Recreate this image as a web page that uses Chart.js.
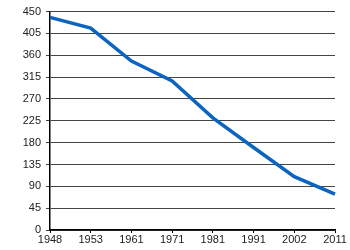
<!DOCTYPE html>
<html>
<head>
<meta charset="utf-8">
<script src="https://cdn.jsdelivr.net/npm/chart.js@4"></script>
<style>
  html, body { margin: 0; padding: 0; background: #fff; }
  #wrap { width: 350px; height: 250px; }
</style>
</head>
<body>
<div id="wrap"><canvas id="lineChart"></canvas></div>
<script>
const years = ['1948', '1953', '1961', '1971', '1981', '1991', '2002', '2011'];
const values = [438, 416, 348, 307, 231, 170, 110, 74];
const yTicks = [0, 45, 90, 135, 180, 225, 270, 315, 360, 405, 450];

Chart.defaults.font.family = '"Liberation Sans", Arial, sans-serif';
Chart.defaults.font.size = 11;
Chart.defaults.color = '#222';

const lineConfig = {
  type: 'line',
  data: {
    labels: years,
    datasets: [{
      data: values,
      borderColor: '#0a64c0',
      borderWidth: 3.5,
      pointRadius: 0,
      tension: 0,
      fill: false
    }]
  },
  options: {
    responsive: true,
    maintainAspectRatio: false,
    animation: false,
    layout: { padding: { left: 0, top: 10, right: 15, bottom: 0 } },
    plugins: {
      legend: { display: false },
      tooltip: { enabled: false }
    },
    scales: {
      x: {
        offset: false,
        grid: { drawOnChartArea: false, tickLength: 3, color: '#000' },
        border: { color: '#000', width: 1.5 },
        ticks: { padding: 0, maxRotation: 0, autoSkip: false },
        afterFit: (scale) => { scale.height = 20; }
      },
      y: {
        min: 0,
        max: 450,
        afterBuildTicks: (scale) => { scale.ticks = yTicks.map(v => ({ value: v })); },
        grid: { color: '#444', tickLength: 4 },
        border: { color: '#000', width: 1.5 },
        ticks: { padding: 5 },
        afterFit: (scale) => { scale.width = 50; }
      }
    }
  }
};

const myLineChart = new Chart(document.getElementById('lineChart'), lineConfig);
</script>
</body>
</html>
